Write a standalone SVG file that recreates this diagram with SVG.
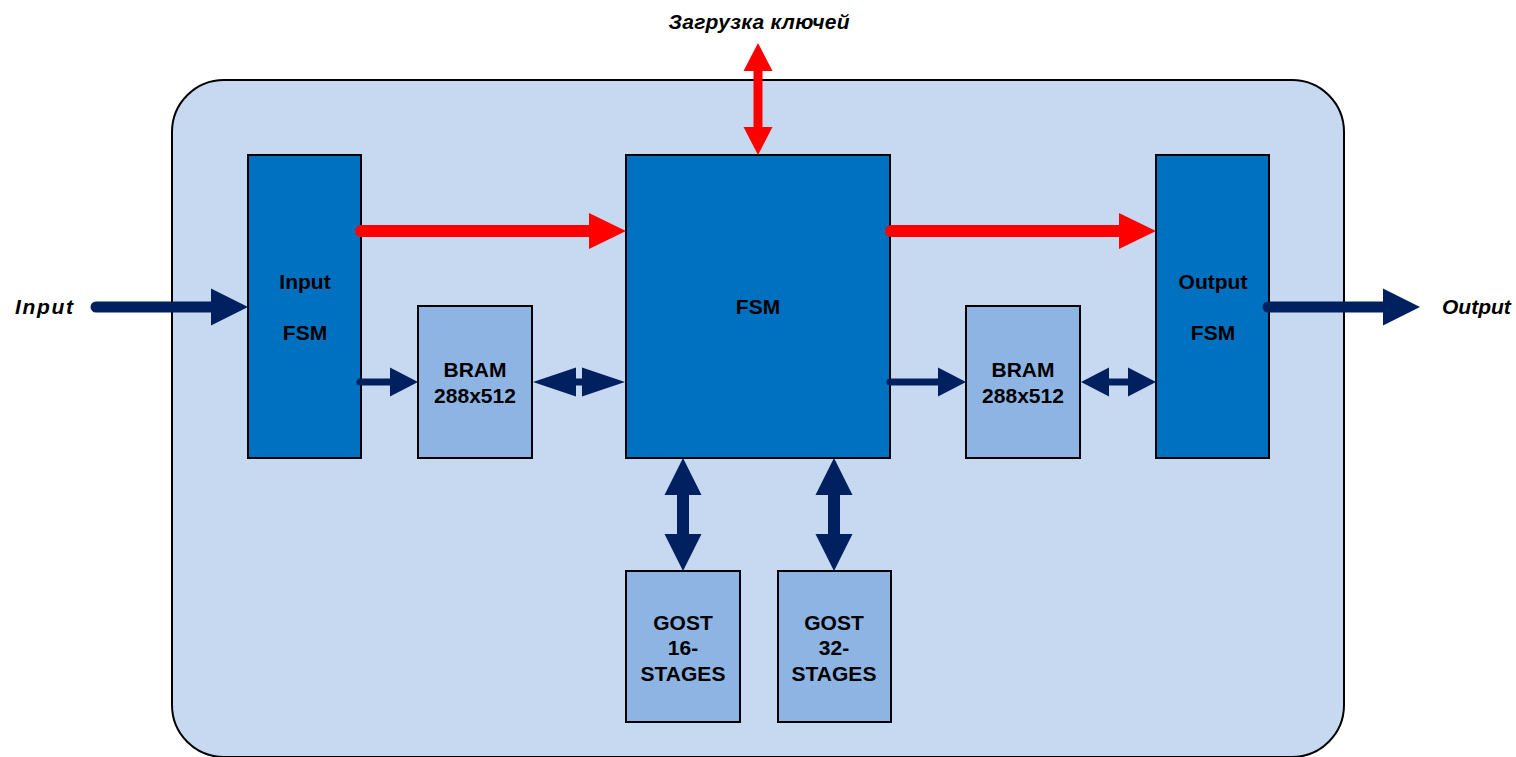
<svg xmlns="http://www.w3.org/2000/svg" width="1516" height="757" viewBox="0 0 1516 757">
<style>
.blk{fill:#0070C0;stroke:#000;stroke-width:2}
.mem{fill:#8EB4E3;stroke:#000;stroke-width:2}
.t{font-family:"Liberation Sans",Arial,sans-serif;font-weight:bold;font-size:21px;fill:#000;text-anchor:middle}
.lbl{font-family:"Liberation Sans",Arial,sans-serif;font-weight:bold;font-style:italic;font-size:21px;fill:#000}
.nv{stroke:#002060;fill:none}
.rd{stroke:#FF0000;fill:none}
</style>
<defs>
<marker id="hNavyBig" markerUnits="userSpaceOnUse" orient="auto-start-reverse" refX="0" refY="0" markerWidth="40" markerHeight="40" overflow="visible"><path d="M0,-18.5 L37,0 L0,18.5 z" fill="#002060"/></marker>
<marker id="hNavySm" markerUnits="userSpaceOnUse" orient="auto-start-reverse" refX="0" refY="0" markerWidth="30" markerHeight="30" overflow="visible"><path d="M0,-14.5 L28,0 L0,14.5 z" fill="#002060"/></marker>
<marker id="hNavyLong" markerUnits="userSpaceOnUse" orient="auto-start-reverse" refX="0" refY="0" markerWidth="45" markerHeight="30" overflow="visible"><path d="M0,-14.5 L43,0 L0,14.5 z" fill="#002060"/></marker>
<marker id="hRedBig" markerUnits="userSpaceOnUse" orient="auto-start-reverse" refX="0" refY="0" markerWidth="40" markerHeight="40" overflow="visible"><path d="M0,-18 L37,0 L0,18 z" fill="#FF0000"/></marker>
<marker id="hRedSm" markerUnits="userSpaceOnUse" orient="auto-start-reverse" refX="0" refY="0" markerWidth="30" markerHeight="30" overflow="visible"><path d="M0,-14.5 L28,0 L0,14.5 z" fill="#FF0000"/></marker>
</defs>
<g id="container">
<path d="M224,80 H1292 A52,52 0 0 1 1344,132 V705 A52,52 0 0 1 1292,757 H224 A52,52 0 0 1 172,705 V132 A52,52 0 0 1 224,80 Z" fill="#C6D9F1" stroke="#000" stroke-width="2"/>
</g>
<g id="input_fsm"><rect class="blk" x="248" y="155" width="113" height="303"/><text class="t" x="305" y="289">Input</text><text class="t" x="305" y="340">FSM</text></g>
<g id="bram1"><rect class="mem" x="418" y="306" width="114" height="152"/><text class="t" x="475" y="377">BRAM</text><text class="t" x="475" y="403">288x512</text></g>
<g id="fsm"><rect class="blk" x="626" y="155" width="264" height="303"/><text class="t" x="758" y="314">FSM</text></g>
<g id="bram2"><rect class="mem" x="966" y="306" width="114" height="152"/><text class="t" x="1023" y="377">BRAM</text><text class="t" x="1023" y="403">288x512</text></g>
<g id="output_fsm"><rect class="blk" x="1156" y="155" width="113" height="303"/><text class="t" x="1213" y="289">Output</text><text class="t" x="1213" y="340">FSM</text></g>
<g id="gost16"><rect class="mem" x="626" y="571" width="114" height="151"/><text class="t" x="683" y="630">GOST</text><text class="t" x="683" y="655">16-</text><text class="t" x="683" y="681">STAGES</text></g>
<g id="gost32"><rect class="mem" x="778" y="571" width="113" height="151"/><text class="t" x="834" y="630">GOST</text><text class="t" x="834" y="655">32-</text><text class="t" x="834" y="681">STAGES</text></g>
<g id="labels">
<text class="lbl" x="15" y="314" textLength="58" lengthAdjust="spacing">Input</text>
<text class="lbl" x="1442" y="314">Output</text>
<text class="lbl" x="759" y="29" text-anchor="middle" textLength="181" lengthAdjust="spacing">Загрузка ключей</text>
</g>
<g id="connectors" stroke-linecap="round">
<line class="nv" x1="96" y1="307" x2="211" y2="307" stroke-width="11" marker-end="url(#hNavyBig)"/>
<line class="nv" x1="1268" y1="307" x2="1383" y2="307" stroke-width="11" marker-end="url(#hNavyBig)"/>
<line class="rd" x1="361" y1="231" x2="589" y2="231" stroke-width="12" marker-end="url(#hRedBig)"/>
<line class="rd" x1="891" y1="231" x2="1119" y2="231" stroke-width="12" marker-end="url(#hRedBig)"/>
<line class="rd" x1="758" y1="71" x2="758" y2="127" stroke-width="9" stroke-linecap="butt" marker-start="url(#hRedSm)" marker-end="url(#hRedSm)"/>
<line class="nv" x1="360" y1="382" x2="390" y2="382" stroke-width="7" marker-end="url(#hNavySm)"/>
<line class="nv" x1="890" y1="382" x2="938" y2="382" stroke-width="7" marker-end="url(#hNavySm)"/>
<line class="nv" x1="576" y1="382" x2="582" y2="382" stroke-width="7" stroke-linecap="butt" marker-start="url(#hNavyLong)" marker-end="url(#hNavyLong)"/>
<line class="nv" x1="1109" y1="382" x2="1128" y2="382" stroke-width="7" stroke-linecap="butt" marker-start="url(#hNavySm)" marker-end="url(#hNavySm)"/>
<line class="nv" x1="683" y1="495" x2="683" y2="534" stroke-width="12" stroke-linecap="butt" marker-start="url(#hNavyBig)" marker-end="url(#hNavyBig)"/>
<line class="nv" x1="834" y1="495" x2="834" y2="534" stroke-width="12" stroke-linecap="butt" marker-start="url(#hNavyBig)" marker-end="url(#hNavyBig)"/>
</g>
</svg>
